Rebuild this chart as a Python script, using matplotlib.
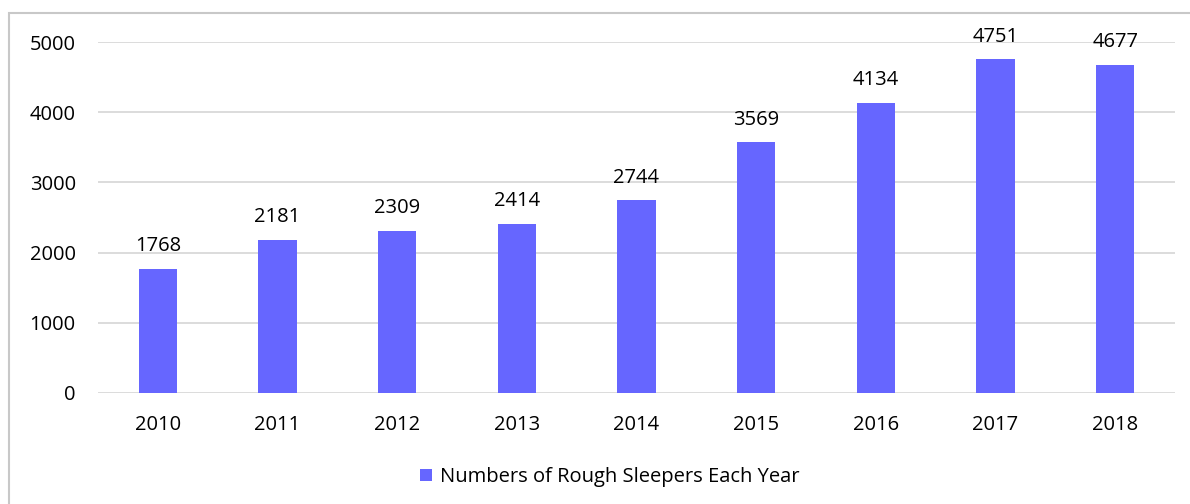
import matplotlib.pyplot as plt
from matplotlib.patches import Rectangle

years = ['2010', '2011', '2012', '2013', '2014', '2015', '2016', '2017', '2018']
sleepers = [1768, 2181, 2309, 2414, 2744, 3569, 4134, 4751, 4677]
yticks = [0, 1000, 2000, 3000, 4000, 5000]

plt.rcParams['font.family'] = ['Open Sans', 'DejaVu Sans']

fig = plt.figure(figsize=(11.9, 5.04), dpi=100)
ax = fig.add_axes([98 / 1190, 111 / 504, 1077 / 1190, 351 / 504])

x = range(len(years))
bars = ax.bar(x, sleepers, width=0.32, color='#6666FF', zorder=3,
              label='Numbers of Rough Sleepers Each Year')
for xi, v in zip(x, sleepers):
    ax.annotate(str(v), (xi, v), xytext=(0, 9), textcoords='offset points',
                ha='center', va='bottom', fontsize=14.5, color='black',
                annotation_clip=False)

ax.set_xlim(-0.5, len(years) - 0.5)
ax.set_ylim(0, 5000)
ax.set_yticks(yticks)
ax.set_xticks(list(x))
ax.set_xticklabels(years)
ax.tick_params(length=0, labelsize=14.5, colors='black')
ax.tick_params(axis='y', pad=16)
ax.tick_params(axis='x', pad=16)
ax.grid(axis='y', color='#D9D9D9', linewidth=1.3, zorder=0)
for s in ax.spines.values():
    s.set_visible(False)

fig.legend(handles=[bars], loc='center', bbox_to_anchor=(610 / 1190, 27 / 504),
           frameon=False, fontsize=14.5, handlelength=0.6, handleheight=0.6,
           handletextpad=0.4)

# outer chart border, running off the right and bottom edges
fig.patches.append(Rectangle((9 / 1190, -0.2), 1.2, 1.2 - 13 / 504,
                             transform=fig.transFigure, fill=False,
                             edgecolor='#C8C8C8', linewidth=1.5))

fig.savefig('out.png', dpi=100)
